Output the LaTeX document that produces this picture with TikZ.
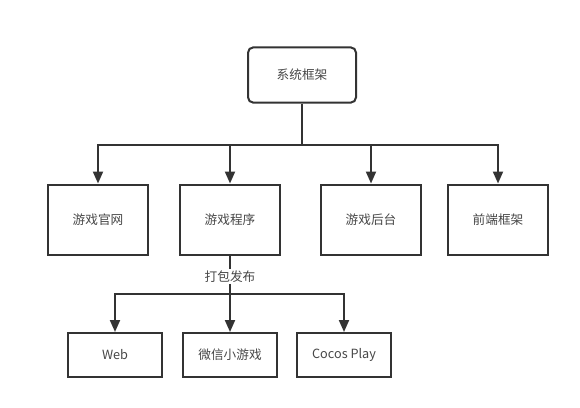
\documentclass[tikz,border=0pt]{standalone}
\usepackage{fontspec}
\setmainfont{Noto Sans CJK SC}
\usetikzlibrary{arrows.meta}
\definecolor{ln}{HTML}{333333}
\begin{document}
\begin{tikzpicture}[x=0.75pt,y=-0.75pt,
  box/.style={draw=ln,line width=1.5pt,fill=white,inner sep=0pt,font=\fontsize{9.5}{11}\selectfont,text=ln!90},
  conn/.style={draw=ln,line width=1.5pt},
  arr/.style={conn,-{Triangle[length=9pt,width=7.5pt]}}]
\useasboundingbox[fill=white] (0,0) rectangle (580,407);
\node[box,rounded corners=4pt,minimum width=81pt,minimum height=41.5pt] (sys) at (302,75) {系统框架};
\node[box,minimum width=75pt,minimum height=52.5pt] (gw) at (98,219.5) {游戏官网};
\node[box,minimum width=75pt,minimum height=52.5pt] (cx) at (230,219.5) {游戏程序};
\node[box,minimum width=75pt,minimum height=52.5pt] (ht) at (371,219.5) {游戏后台};
\node[box,minimum width=75pt,minimum height=52.5pt] (qd) at (498,219.5) {前端框架};
\node[box,minimum width=70pt,minimum height=33pt] (web) at (115,355) {Web};
\node[box,minimum width=70pt,minimum height=33pt] (wx) at (230,355) {微信小游戏};
\node[box,minimum width=70pt,minimum height=33pt] (cp) at (344,355) {Cocos Play};
\coordinate (j1) at (302,144.5);
\coordinate (j2) at (230,293.5);
\node[fill=white,inner sep=1pt,font=\fontsize{9.5}{11}\selectfont,text=ln!90] (lbl) at (230,276.5) {打包发布};
\draw[conn] (sys.south) -- (j1);
\draw[arr] (j1) -| (gw.north);
\draw[arr] (j1) -| (cx.north);
\draw[arr] (j1) -| (ht.north);
\draw[arr] (j1) -| (qd.north);
\draw[conn] (cx.south) -- (lbl.north);
\draw[conn] (lbl.south) -- (j2);
\draw[arr] (j2) -| (web.north);
\draw[arr] (j2) -- (wx.north);
\draw[arr] (j2) -| (cp.north);
\end{tikzpicture}
\end{document}
